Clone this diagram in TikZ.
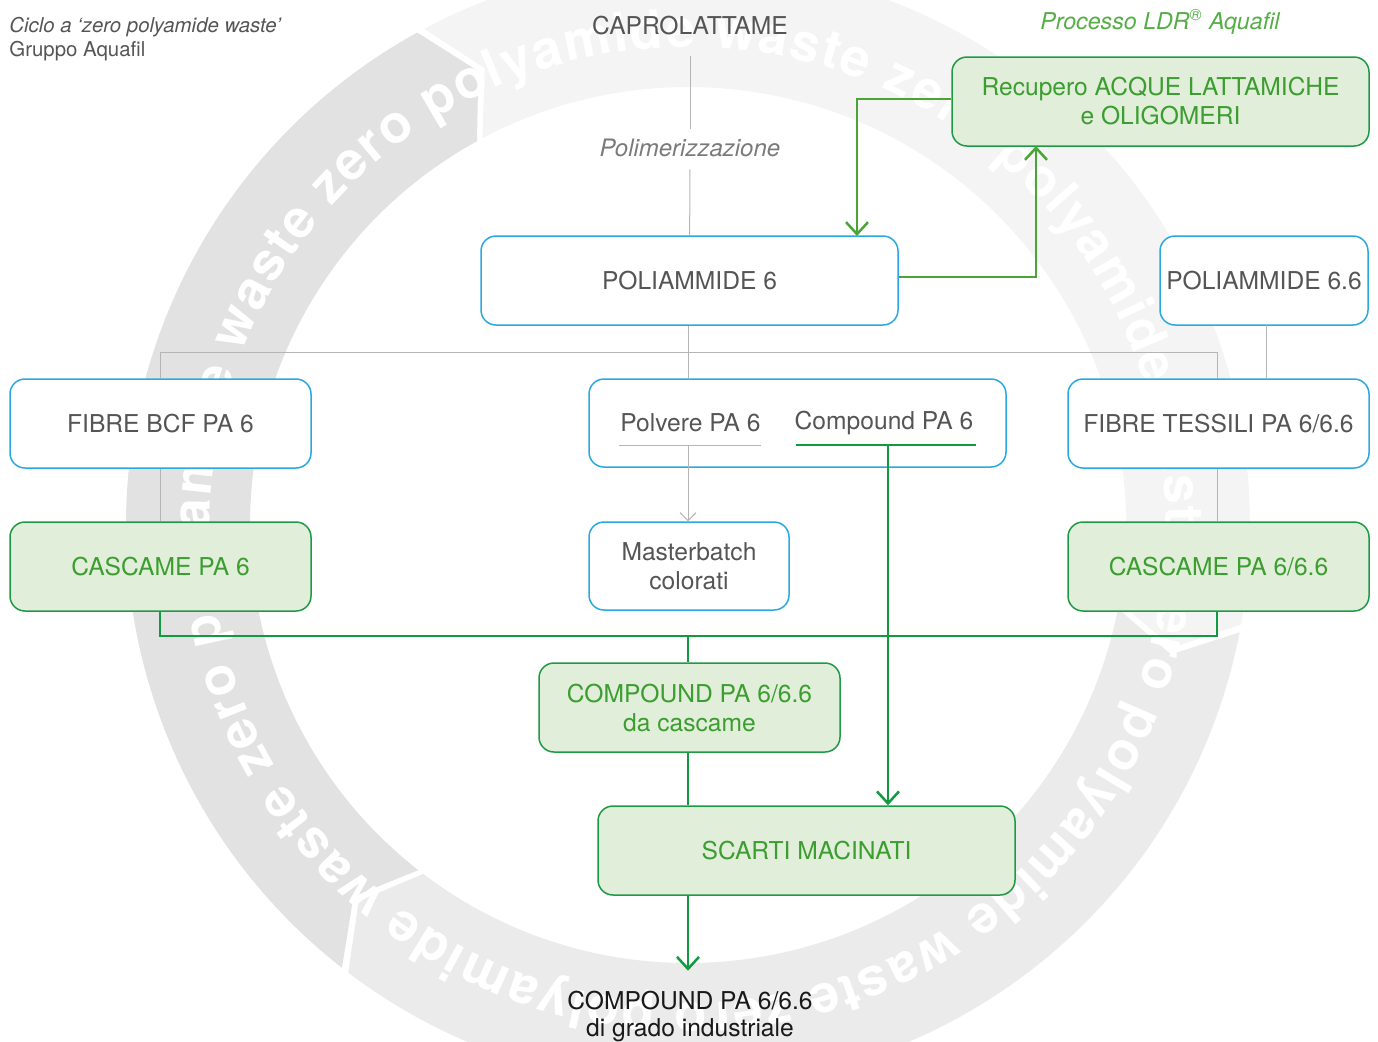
\documentclass[tikz,border=0pt]{standalone}
\usepackage{fontspec}
\setmainfont{TeX Gyre Heros}
\usetikzlibrary{decorations.text,arrows.meta}
\definecolor{ringA}{HTML}{F3F4F3}
\definecolor{ringB}{HTML}{EBEBEB}
\definecolor{ringC}{HTML}{E2E2E2}
\definecolor{bluebd}{HTML}{2AA8E0}
\definecolor{greenfill}{HTML}{E1EED9}
\definecolor{greenbd}{HTML}{1E9A46}
\definecolor{greentxt}{HTML}{3C9D30}
\definecolor{greenline}{HTML}{129A40}
\definecolor{ldrline}{HTML}{4CA337}
\definecolor{ldrtxt}{HTML}{55AE45}
\definecolor{greyline}{HTML}{B5B5B5}
\definecolor{txtgrey}{HTML}{555555}
\definecolor{txtlight}{HTML}{7A7A7A}
\newcommand\ringseg[3]{%
  \fill[#3] (#1:562) arc[start angle=#1, end angle={#2-0.8}, radius=562]
    -- ({#2-0.8+4}:500) -- ({#2-0.8}:438)
    arc[start angle={#2-0.8}, end angle=#1, radius=438]
    -- ({#1+4}:500) -- cycle;}
\begin{document}
\begin{tikzpicture}[x=0.5pt,y=-0.5pt,
  font=\fontsize{12.3pt}{14.5pt}\selectfont,
  sz/.style 2 args={minimum width=#1*0.5pt, minimum height=#2*0.5pt},
  bluebox/.style={draw=bluebd, line width=0.75pt, fill=white, rounded corners=7.5pt, text=txtgrey, align=center, inner sep=0pt},
  greenbox/.style={draw=greenbd, line width=0.75pt, fill=greenfill, rounded corners=7.5pt, text=greentxt, align=center, inner sep=0pt},
  plain/.style={inner sep=0pt, align=center},
  greyln/.style={draw=greyline, line width=0.5pt},
  greyarr/.style={greyln, -{Straight Barb[length=4pt,width=8pt]}},
  gln/.style={draw=greenline, line width=1.25pt},
  garr/.style={gln, -{Straight Barb[length=6pt,width=11pt]}},
  ldrarr/.style={draw=ldrline, line width=1.25pt, -{Straight Barb[length=6pt,width=11pt]}}
]
\useasboundingbox (0,0) rectangle (1378,1041);
\clip (0,0) rectangle (1378,1041);

% background ring
\begin{scope}[shift={(688,525)}]
  \ringseg{242}{371}{ringA}
  \ringseg{11}{128}{ringB}
  \ringseg{128}{242}{ringC}
  \path[decorate, decoration={text along path, text color=white, text align={fit to path},
    text={|\fontsize{26.5pt}{26.5pt}\selectfont\bfseries|waste zero polyamide waste zero polyamide waste zero polyamide waste zero polyamide waste zero polyamide}}]
    (129:478) arc[start angle=129, end angle=487, radius=478];
\end{scope}

% header texts
\node[plain, anchor=west, text=txtgrey, font=\fontsize{10.2pt}{12pt}\selectfont\itshape] (hdr1) at (9,27) {Ciclo a ‘zero polyamide waste’};
\node[plain, anchor=west, text=txtgrey, font=\fontsize{10.2pt}{12pt}\selectfont] (hdr2) at (9,51) {Gruppo Aquafil};
\node[plain, text=ldrtxt, font=\fontsize{11.6pt}{14pt}\selectfont\itshape] (ldrhdr) at (1160,22) {Processo LDR\textsuperscript{®} Aquafil};

\node[plain, text=txtgrey] (capro) at (690,26) {CAPROLATTAME};
\node[plain, text=txtlight, font=\fontsize{12pt}{14.5pt}\selectfont\itshape] (polim) at (690,148) {Polimerizzazione};

% boxes
\node[bluebox, sz={417}{89}] (pa6) at (689.5,280.5) {POLIAMMIDE 6};
\node[greenbox, sz={417}{89}] (ldr) at (1160.5,101.5) {Recupero ACQUE LATTAMICHE\\e OLIGOMERI};
\node[bluebox, sz={208}{89}] (pa66) at (1264,280.5) {POLIAMMIDE 6.6};
\node[bluebox, sz={301}{89}] (bcf) at (160.5,423.5) {FIBRE BCF PA 6};
\node[bluebox, sz={417}{88}] (polv) at (797.5,423) {};
\node[bluebox, sz={301}{89}] (tess) at (1218.5,423.5) {FIBRE TESSILI PA 6/6.6};
\node[greenbox, sz={301}{89}] (cas6) at (160.5,566.5) {CASCAME PA 6};
\node[bluebox, sz={200}{88}] (master) at (689,566) {Masterbatch\\colorati};
\node[greenbox, sz={301}{89}] (cas66) at (1218.5,566.5) {CASCAME PA 6/6.6};
\node[greenbox, sz={301}{89}] (cmp) at (689.5,707.5) {COMPOUND PA 6/6.6\\da cascame};
\node[greenbox, sz={417}{89}] (scarti) at (806.5,850.5) {SCARTI MACINATI};
\node[plain, text=black!90, font=\fontsize{12.3pt}{13.5pt}\selectfont] (final) at (690,1016.5) {COMPOUND PA 6/6.6\\di grado industriale};

\node[plain, text=txtgrey] (polvt) at (690.5,423) {Polvere PA 6};
\node[plain, text=txtgrey] (compt) at (884,423) {Compound PA 6};

% grey connectors
\draw[greyln, shorten <=10pt, shorten >=5pt] (capro) -- (polim);
\draw[greyln, shorten <=6pt] (polim) -- (pa6);
\coordinate (busL) at (160,352);
\coordinate (busM) at (688,352);
\coordinate (busR) at (1217,352);
\draw[greyln] (busM |- pa6.south) -- (busM);
\draw[greyln] (busL) -- (busR);
\draw[greyln] (busL) -- (busL |- bcf.north);
\draw[greyln] (busM) -- (busM |- polv.north);
\draw[greyln] (busR) -- (busR |- tess.north);
\coordinate (p66x) at (1266,325);
\draw[greyln] (p66x) -- (p66x |- tess.north);
\draw[greyln] (busL |- bcf.south) -- (busL |- cas6.north);
\draw[greyln] (busR |- tess.south) -- (busR |- cas66.north);
\coordinate (pu1) at (619,445);
\coordinate (pu2) at (761,445);
\coordinate (pum) at (688,445);
\draw[greyln] (pu1) -- (pu2);
\draw[greyarr] (pum) -- (pum |- master.north);

% green connectors
\coordinate (cu1) at (796,445);
\coordinate (cu2) at (976,445);
\coordinate (cum) at (888,445);
\draw[gln] (cu1) -- (cu2);
\draw[garr] (cum) -- (cum |- scarti.north);
\coordinate (gbL) at (160,636);
\coordinate (gbM) at (688,636);
\coordinate (gbR) at (1217,636);
\draw[gln] (gbL |- cas6.south) -- (gbL) -- (gbR) -- (gbR |- cas66.south);
\draw[gln] (gbM) -- (gbM |- cmp.north);
\draw[gln] (gbM |- cmp.south) -- (gbM |- scarti.north);
\draw[garr, shorten >=10pt] (gbM |- scarti.south) -- (gbM |- final.north);

% LDR loop
\coordinate (ldrin) at (1036,146);
\coordinate (pa6in) at (857,236);
\draw[ldrarr] ([yshift=1.75pt]pa6.east) -| (ldrin);
\draw[ldrarr] ([yshift=1.25pt]ldr.west) -| (pa6in);
\end{tikzpicture}
\end{document}
